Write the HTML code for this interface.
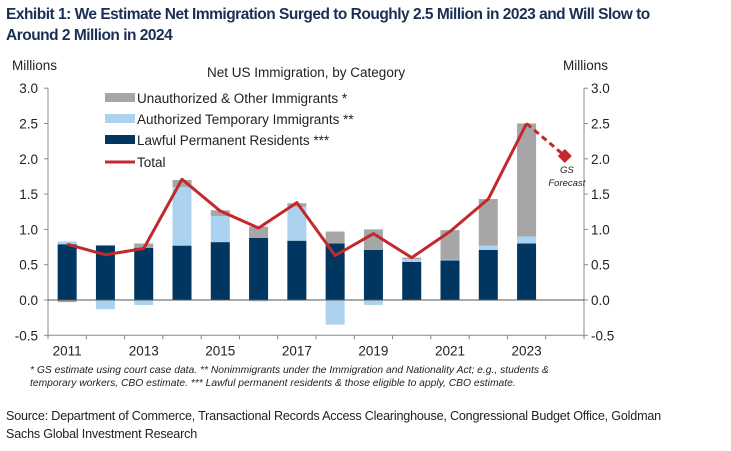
<!DOCTYPE html>
<html><head><meta charset="utf-8"><style>
body{margin:0;width:731px;height:451px;background:#fff;overflow:hidden;font-family:"Liberation Sans",sans-serif}
#title{position:absolute;left:6px;top:4px;width:725px;font-size:15.5px;font-weight:bold;color:#1b2f55;line-height:21px;letter-spacing:-0.5px;white-space:nowrap}
#fn{position:absolute;left:30px;top:365px;font-size:10.3px;font-style:italic;color:#222;line-height:12.5px}
#src{position:absolute;left:6px;top:407px;font-size:12.6px;color:#222;line-height:18px;width:725px;letter-spacing:-0.2px;white-space:nowrap}
svg{position:absolute;left:0;top:0}
</style></head><body>
<div id="title">Exhibit 1: We Estimate Net Immigration Surged to Roughly 2.5 Million in 2023 and Will Slow to<br>Around 2 Million in 2024</div>
<svg id="chart" width="731" height="451" font-family="Liberation Sans, sans-serif"></svg>
<div id="fn">* GS estimate using court case data. ** Nonimmigrants under the Immigration and Nationality Act; e.g., students &amp;<br>temporary workers, CBO estimate. *** Lawful permanent residents &amp; those eligible to apply, CBO estimate.</div>
<div id="src">Source: Department of Commerce, Transactional Records Access Clearinghouse, Congressional Budget Office, Goldman<br>Sachs Global Investment Research</div>
<script>
const years=[2011,2012,2013,2014,2015,2016,2017,2018,2019,2020,2021,2022,2023];
const lawful=[0.79,0.77,0.74,0.77,0.82,0.88,0.84,0.80,0.71,0.54,0.56,0.71,0.80];
const temporary=[0.04,-0.13,-0.07,0.83,0.37,-0.02,0.48,-0.35,-0.07,0.04,0.01,0.06,0.10];
const unauthorized=[-0.03,0.01,0.06,0.10,0.08,0.16,0.05,0.17,0.29,0.02,0.42,0.66,1.60];
const total=[0.79,0.64,0.73,1.71,1.26,1.02,1.38,0.63,0.94,0.60,0.97,1.43,2.50];
const forecastYears=[2023,2024];
const forecast=[2.50,2.04];
const yTicks=[-0.5,0,0.5,1,1.5,2,2.5,3];
const xLabels=[2011,2013,2015,2017,2019,2021,2023];
const svg=document.getElementById('chart');const NS='http://www.w3.org/2000/svg';
function el(t,a,p){const e=document.createElementNS(NS,t);for(const k in a)e.setAttribute(k,a[k]);(p||svg).appendChild(e);return e;}
const L=48,R=584,x0=2010.5,x1=2024.5;
const X=v=>L+(v-x0)/(x1-x0)*(R-L);
const Y=v=>300-v*70.6;
const cN='#003660',cT='#abd3f0',cG='#a6a6a6',cR='#c3282c';
let e=el('line',{x1:L,y1:Y(3),x2:L,y2:Y(-0.5),stroke:'#888'});
e=el('line',{x1:R,y1:Y(3),x2:R,y2:Y(-0.5),stroke:'#888'});
e=el('line',{x1:L,y1:Y(-0.5),x2:R,y2:Y(-0.5),stroke:'#888'});
yTicks.forEach(t=>{
 el('line',{x1:L-4,y1:Y(t),x2:L,y2:Y(t),stroke:'#888'});el('line',{x1:R,y1:Y(t),x2:R+4,y2:Y(t),stroke:'#888'});
 let a=el('text',{x:38,y:Y(t)+5,'text-anchor':'end','font-size':13.5,fill:'#222'});a.textContent=t.toFixed(1);
 
 let b=el('text',{x:591,y:Y(t)+5,'font-size':13.5,fill:'#222'});b.textContent=t.toFixed(1);
 
});
for(let y=2010.5;y<=2024.5;y++)el('line',{x1:X(y),y1:Y(-0.5),x2:X(y),y2:Y(-0.5)+4,stroke:'#888'});
xLabels.forEach(y=>{let a=el('text',{x:X(y),y:Y(-0.5)+20,'text-anchor':'middle','font-size':13.5,fill:'#222'});a.textContent=y;
 });
const bw=19;
function bar(cx,v0,v1,c,name){const t=Math.min(Y(v0),Y(v1)),h=Math.abs(Y(v1)-Y(v0));const r=el('rect',{x:cx-bw/2,y:t,width:bw,height:h,fill:c});
 }
years.forEach((y,i)=>{const cx=X(y);let pos=0,neg=0;
 [[lawful[i],cN,'bar-lawful'],[temporary[i],cT,'bar-temporary'],[unauthorized[i],cG,'bar-unauthorized']].forEach(([v,c,n])=>{
  if(v>=0){bar(cx,pos,pos+v,c,n);pos+=v;}else{bar(cx,neg,neg+v,c,n);neg+=v;}});});
e=el('line',{x1:L,y1:Y(0),x2:R,y2:Y(0),stroke:'#555','stroke-width':1});
e=el('polyline',{points:years.map((y,i)=>X(y)+','+Y(total[i])).join(' '),fill:'none',stroke:cR,'stroke-width':3,'stroke-linejoin':'round'});

e=el('polyline',{points:forecastYears.map((y,i)=>X(y)+','+Y(forecast[i])).join(' '),fill:'none',stroke:cR,'stroke-width':3,'stroke-dasharray':'6,4'});

const fx=X(forecastYears[1]),fy=Y(forecast[1]);
e=el('polygon',{points:`${fx},${fy-7} ${fx+7},${fy} ${fx},${fy+7} ${fx-7},${fy}`,fill:cR});
e=el('text',{x:fx+2,y:fy+17,'text-anchor':'middle','font-size':9.5,'font-style':'italic',fill:'#222'});e.textContent='GS';
e=el('text',{x:fx+2,y:fy+30,'text-anchor':'middle','font-size':9.5,'font-style':'italic',fill:'#222'});e.textContent='Forecast';
[[12,70,'Millions','left-axis-title'],[563,70,'Millions','right-axis-title'],[207,77,'Net US Immigration,  by Category','chart-title']].forEach(([x,y,t,n])=>{
 const a=el('text',{x:x,y:y,'font-size':13.5,fill:'#222'});a.textContent=t;});
[[cG,'Unauthorized & Other Immigrants *',98],[cT,'Authorized Temporary Immigrants **',119],[cN,'Lawful Permanent Residents ***',140]].forEach(([c,t,y])=>{
 const g=el('g',{});
 el('rect',{x:105,y:y-5,width:30,height:9,fill:c},g);
 const a=el('text',{x:137,y:y+5,'font-size':13.5,fill:'#222'},g);a.textContent=t;});
const g=el('g',{});
el('line',{x1:105,y1:162,x2:135,y2:162,stroke:cR,'stroke-width':3},g);
const a=el('text',{x:137,y:167,'font-size':13.5,fill:'#222'},g);a.textContent='Total';
</script>
</body></html>
